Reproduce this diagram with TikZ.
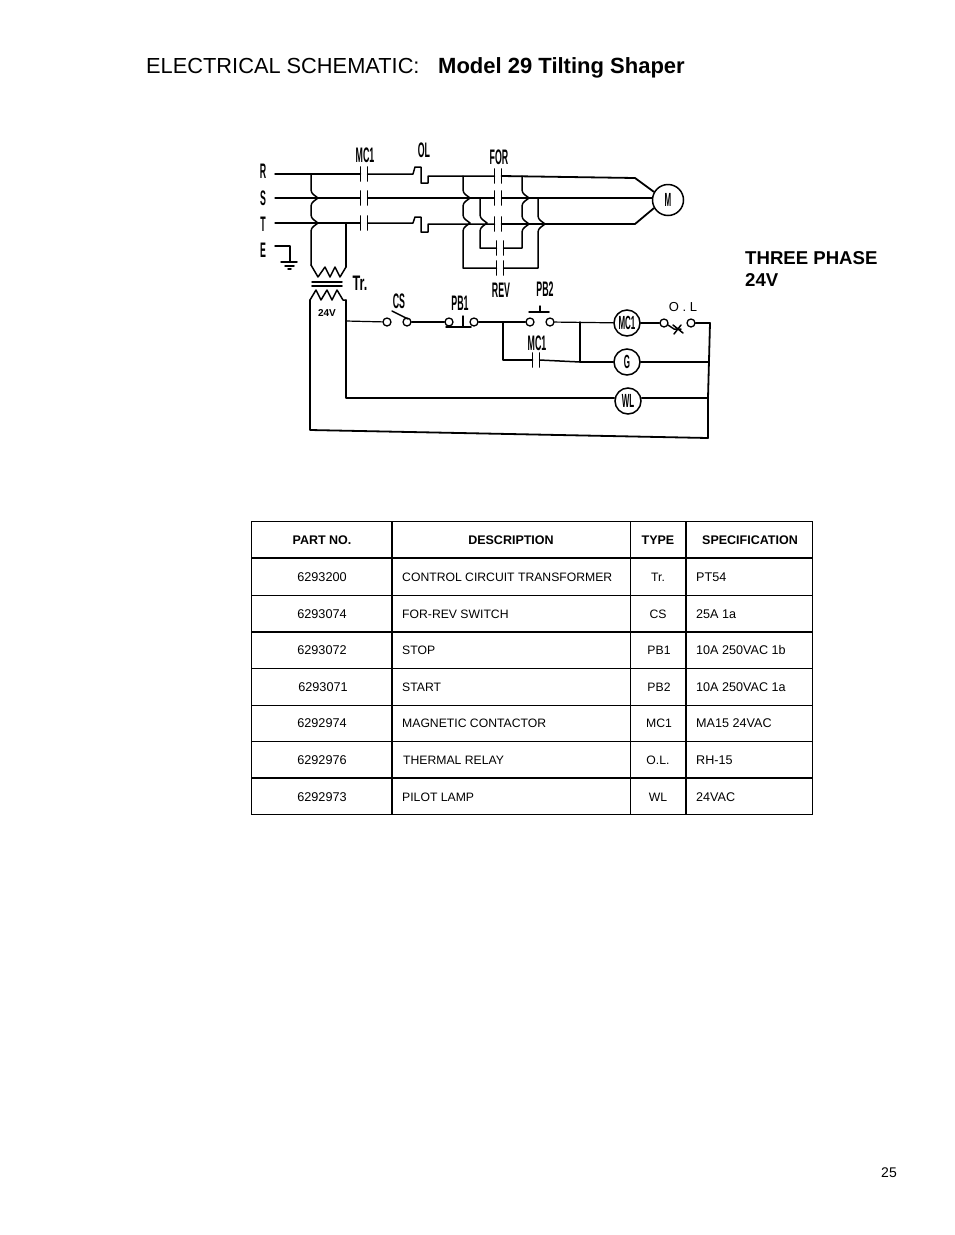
\documentclass[tikz,border=0pt]{standalone}
\usepackage{fontspec}
\setmainfont{Liberation Sans}
\usetikzlibrary{calc}
\newcommand{\cond}[2][.42]{\scalebox{#1}[1]{#2}}
\newcommand{\contactat}[2]{% name, centre
  \coordinate (#1l) at ($(#2)+(-3.5,0)$);
  \coordinate (#1r) at ($(#2)+(3.5,0)$);
  \draw[wire,line width=1.8pt] ($(#1l)+(0,-7)$) -- ($(#1l)+(0,7)$);
  \draw[wire,line width=1.8pt] ($(#1r)+(0,-7)$) -- ($(#1r)+(0,7)$);
}
\tikzset{
  wire/.style={line width=1.5pt,line join=round,line cap=round,black},
  thin wire/.style={wire,line width=1.2pt},
  heavy wire/.style={wire,line width=1.8pt},
  term/.style={circle,draw,line width=1.3pt,minimum size=8pt,inner sep=0pt,fill=white},
  coil/.style={circle,draw,line width=1.5pt,minimum size=26pt,inner sep=0pt,fill=white,font=\bfseries\fontsize{19}{19}\selectfont},
  lab/.style={inner sep=0pt,font=\bfseries\fontsize{21}{21}\selectfont},
  gridl/.style={line width=1pt,black},
  gridh/.style={line width=1pt,black},
  hdr/.style={inner sep=0pt,font=\bfseries\fontsize{12.5}{13}\selectfont},
  cell/.style={inner sep=0pt,font=\fontsize{12.2}{13}\selectfont},
  cellw/.style={cell,anchor=west},
  cellnum/.style={inner sep=0pt,font=\fontsize{12.7}{13}\selectfont},
  cellspec/.style={inner sep=0pt,anchor=west,font=\fontsize{12.6}{13}\selectfont},
}
\begin{document}
\begin{tikzpicture}[x=1pt,y=-1pt]
\useasboundingbox (0,0) rectangle (954,1235);
\fill[white] (0,0) rectangle (954,1235);
% Title
\node[anchor=base west,inner sep=0pt,font=\fontsize{21.8}{24}\selectfont] (title) at (146,73) {ELECTRICAL SCHEMATIC:};
\node[anchor=base west,inner sep=0pt,font=\bfseries\fontsize{22}{24}\selectfont] (title2) at (438,73) {Model 29 Tilting Shaper};
\node[anchor=base west,inner sep=0pt,font=\bfseries\fontsize{18.6}{20}\selectfont] (tp) at (745,264) {THREE PHASE};
\node[anchor=base west,inner sep=0pt,font=\bfseries\fontsize{18.6}{20}\selectfont] (tv) at (745,286) {24V};
\node[anchor=base,inner sep=0pt,font=\fontsize{14}{14}\selectfont] (page) at (889,1177) {25};
% Phase labels
\node[lab] (lR) at (263,171) {\cond{R}};
\node[lab] (lS) at (263,198) {\cond{S}};
\node[lab] (lT) at (263,224) {\cond{T}};
\node[lab] (lE) at (263,250) {\cond{E}};
\node[lab] (lMC) at (365,155) {\cond{MC1}};
\node[lab] (lOL) at (424,150) {\cond{OL}};
\node[lab] (lFOR) at (499,157) {\cond{FOR}};
\node[lab] (lREV) at (501,290) {\cond{REV}};
\node[lab] (lPB2) at (545,289) {\cond{PB2}};
\node[lab] (lTr) at (360,283) {\cond[.6]{Tr.}};
\node[lab] (lCS) at (399,301) {\cond{CS}};
\node[lab] (lPB1) at (460,303) {\cond{PB1}};
\node[inner sep=0pt,font=\bfseries\fontsize{10}{10}\selectfont] (l24) at (327,313) {24V};
\node[lab] (lMC2) at (537,343) {\cond{MC1}};
\node[inner sep=0pt,font=\fontsize{13}{13}\selectfont] (lOL2) at (683,307) {O . L};
% Motor
\node[coil,minimum size=31pt] (M) at (668,200) {\cond{M}};
% Control elements
\node[coil] (cMC) at (627,323) {\cond{MC1}};
\node[coil] (cG) at (627,362) {\cond{G}};
\node[coil] (cWL) at (628,401) {\cond{WL}};
\node[term] (cs1) at (387,322) {};
\node[term] (cs2) at (407,322) {};
\node[term] (pb1a) at (449,322) {};
\node[term] (pb1b) at (474,322) {};
\node[term] (pb2a) at (530,322) {};
\node[term] (pb2b) at (550,322) {};
\node[term] (ol1) at (664,323) {};
\node[term] (ol2) at (691,323) {};
% Contacts
\coordinate (kR) at (364,174); \contactat{cR}{kR}
\coordinate (kS) at (364,198); \contactat{cS}{kS}
\coordinate (kT) at (364,223); \contactat{cT}{kT}
\coordinate (fR) at (498,176); \contactat{fcR}{fR}
\coordinate (fS) at (498,198); \contactat{fcS}{fS}
\coordinate (fT) at (498,224); \contactat{fcT}{fT}
\coordinate (rA) at (500,248); \contactat{rcA}{rA}
\coordinate (rB) at (500,268); \contactat{rcB}{rB}
\coordinate (hk) at (536,360); \contactat{hk1}{hk}
% Named rails
\coordinate (Rin) at (275,174);
\coordinate (Sin) at (275,198);
\coordinate (Tin) at (275,223);
\coordinate (Ebeg) at (275,246);
\coordinate (Eg) at (290,246);
\coordinate (Rbend) at (635,178);
\coordinate (Tbend) at (635,224);
\coordinate (Rtap) at (311,174);
\coordinate (Ttap) at (346,223);
\coordinate (priL) at (311,265);
\coordinate (priR) at (346,267);
\coordinate (secL) at (310,300);
\coordinate (secR) at (346,300);
\coordinate (br1) at (346,321);
\coordinate (br2) at (346,398);
\coordinate (bl) at (310,430);
\coordinate (br) at (708,438);
\coordinate (rr1) at (710,323);
\coordinate (rr2) at (708,362);
\coordinate (rr3) at (708,398);
\coordinate (bxL) at (503,322);
\coordinate (bxLb) at (503,360);
\coordinate (bxR) at (580,322);
\coordinate (bxRb) at (580,362);
% Main lines
\draw[wire] (Rin) -- (cRl);
\draw[thin wire] (Sin) -- (cSl);
\draw[thin wire] (Tin) -- (cTl);
\draw[wire] (cRr) -- (413,174) -- (415,167) -- (421,167) -- (421,183) -- (428,183) -- (428,176) -- (fcRl);
\draw[thin wire] (cSr) -- (fcSl);
\draw[wire] (cTr) -- (413,223) -- (415,217) -- (421,217) -- (421,232) -- (428,232) -- (428,224) -- (fcTl);
\draw[heavy wire] (fcRr) -- (Rbend) -- (M.150);
\draw[thin wire] (fcSr) -- (M.west |- fcSr) ;
\draw[heavy wire] (fcTr) -- (Tbend) -- (M.210);
% Transformer taps
\draw[wire] (Rtap) -- (311,190) to[out=-85,in=140] (318,198) to[out=220,in=85] (311,206) -- (311,215) to[out=-85,in=140] (318,223) to[out=220,in=85] (311,231) -- (priL);
\draw[wire] (Ttap) -- (priR);
\draw[wire] (priL) -- (318,277) -- (325,267) -- (330,277) -- (335,267) -- (340,277) -- (priR);
\draw[wire] (312,282) -- (342,282);
\draw[wire,line width=1.7pt] (312,286) -- (342,286);
\draw[wire] (secL) -- (316,290) -- (321,300) -- (327,290) -- (332,300) -- (337,290) -- (343,300) -- (secR);
% Reversing bridges
\draw[wire] (463,176) -- (463,190) to[out=-85,in=140] (470,198) to[out=220,in=85] (463,206) -- (463,215) to[out=-85,in=140] (470,223) to[out=220,in=85] (463,231) -- (463,268) -- (rcBl);
\draw[wire] (480,198) -- (480,215) to[out=-85,in=140] (487,223) to[out=220,in=85] (480,231) -- (480,248) -- (rcAl);
\draw[wire] (rcAr) -- (522,248) -- (522,232) to[out=85,in=220] (529,224) to[out=140,in=-85] (522,216) -- (522,206) to[out=85,in=220] (529,198) to[out=140,in=-85] (522,190) -- (522,176);
\draw[wire] (rcBr) -- (538,268) -- (538,232) to[out=85,in=220] (545,224) to[out=140,in=-85] (538,216) -- (538,198);
% Ground
\draw[wire] (Ebeg) -- (Eg) -- (290,262);
\draw[wire] (281,262) -- (297,262);
\draw[wire] (285,266) -- (294,266);
\draw[wire] (288,269) -- (291,269);
% Control circuit
\draw[heavy wire] (secL) -- (bl) -- (br) -- (rr3) -- (rr1) -- (ol2);
\draw[wire] (secR) -- (br1) -- (br2) -- (cWL.west |- br2);
\draw[wire] (cWL.east |- rr3) -- (rr3);
\draw[thin wire] (br1) -- (cs1);
\draw[thin wire] (cs2) -- (pb1a);
\draw[wire] (392,311) -- (408,319);
\draw[wire] (446,327) -- (471,327);
\draw[wire] (463,316) -- (463,327);
\draw[thin wire] (pb1b) -- (bxL) -- (pb2a);
\draw[thin wire] (pb2b) -- (cMC);
\draw[wire] (529,312) -- (549,312);
\draw[wire] (540,306) -- (540,312);
\draw[wire] (bxL) -- (bxLb) -- (hk1l);
\draw[wire] (hk1r) -- (bxRb);
\draw[wire] (bxR) -- (bxRb) -- (cG);
\draw[wire] (cMC) -- (ol1);
\draw[wire] (cG) -- (rr2);
\draw[wire] (668,325) -- (674,329) -- (681,329);
\draw[wire] (673,325) -- (683,333) (681,325) -- (674,334);
% Table grid
\foreach \yy in {521,595,668,705,741,814} \draw[gridh] (251,\yy) -- (813,\yy);
\foreach \yy in {558,632,778} \draw[gridh,line width=1.6pt] (251,\yy) -- (813,\yy);
\foreach \xx in {251,630,812.5} \draw[gridl] (\xx,521) -- (\xx,814);
\foreach \xx in {392,686} \draw[gridl,line width=1.5pt] (\xx,521) -- (\xx,814);
% Table text
\node[hdr] (h1) at (322,540) {PART NO.};
\node[hdr] (h2) at (511,540) {DESCRIPTION};
\node[hdr] (h3) at (658,540) {TYPE};
\node[hdr] (h4) at (750,540) {SPECIFICATION};
\node[cellnum] (a1) at (322,577) {6293200};
\node[cellnum] (a2) at (322,614) {6293074};
\node[cellnum] (a3) at (322,650) {6293072};
\node[cellnum] (a4) at (323,687) {6293071};
\node[cellnum] (a5) at (322,723) {6292974};
\node[cellnum] (a6) at (322,760) {6292976};
\node[cellnum] (a7) at (322,797) {6292973};
\node[cellw] (b1) at (402,577) {CONTROL CIRCUIT TRANSFORMER};
\node[cellw] (b2) at (402,614) {FOR-REV SWITCH};
\node[cellw] (b3) at (402,650) {STOP};
\node[cellw] (b4) at (402,687) {START};
\node[cellw] (b5) at (402,723) {MAGNETIC CONTACTOR};
\node[cellw] (b6) at (403,760) {THERMAL RELAY};
\node[cellw] (b7) at (402,797) {PILOT LAMP};
\node[cell] (c1) at (658,577) {Tr.};
\node[cell] (c2) at (658,614) {CS};
\node[cell] (c3) at (659,650) {PB1};
\node[cell] (c4) at (659,687) {PB2};
\node[cell] (c5) at (659,723) {MC1};
\node[cell] (c6) at (658,760) {O.L.};
\node[cell] (c7) at (658,797) {WL};
\node[cellspec] (d1) at (696,577) {PT54};
\node[cellspec] (d2) at (696,614) {25A 1a};
\node[cellspec] (d3) at (696,650) {10A 250VAC 1b};
\node[cellspec] (d4) at (696,687) {10A 250VAC 1a};
\node[cellspec] (d5) at (696,723) {MA15 24VAC};
\node[cellspec] (d6) at (696,760) {RH-15};
\node[cellspec] (d7) at (696,797) {24VAC};
\end{tikzpicture}
\end{document}
